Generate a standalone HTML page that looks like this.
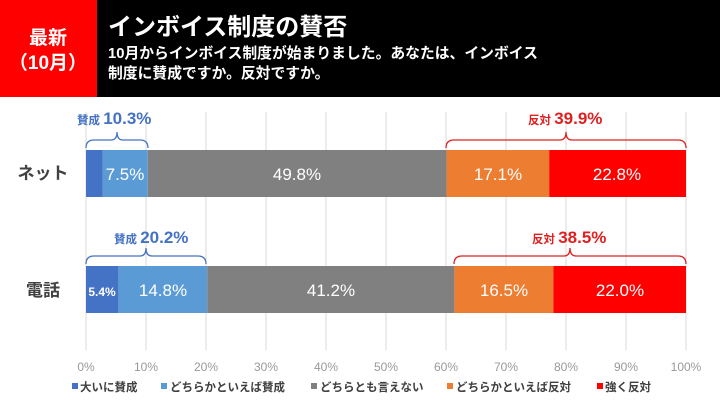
<!DOCTYPE html>
<html><head><meta charset="utf-8"><style>
body{margin:0;width:720px;height:405px;overflow:hidden;background:#fff;font-family:"Liberation Sans","Noto Sans CJK JP",sans-serif}
</style></head><body>
<svg width="720" height="405" xmlns="http://www.w3.org/2000/svg" font-family="Liberation Sans, Noto Sans CJK JP, sans-serif">
<rect x="0" y="0" width="720" height="97" fill="#000"/>
<rect x="0" y="0" width="97" height="97" fill="#f00"/>
<text x="48" y="44" fill="#fff" font-size="19" font-weight="bold" text-anchor="middle">最新</text>
<text x="48" y="69" fill="#fff" font-size="19" font-weight="bold" text-anchor="middle">（10月）</text>
<text x="108" y="35" fill="#fff" font-size="24" font-weight="bold">インボイス制度の賛否</text>
<text x="108" y="58" fill="#fff" font-size="14.8" font-weight="bold">10月からインボイス制度が始まりました。あなたは、インボイス</text>
<text x="108" y="78" fill="#fff" font-size="14.8" font-weight="bold">制度に賛成ですか。反対ですか。</text>
<g stroke="#d9d9d9" stroke-width="1">
<line x1="86" y1="112" x2="86" y2="350"/><line x1="146" y1="112" x2="146" y2="350"/><line x1="206" y1="112" x2="206" y2="350"/><line x1="266" y1="112" x2="266" y2="350"/><line x1="326" y1="112" x2="326" y2="350"/><line x1="386" y1="112" x2="386" y2="350"/><line x1="446" y1="112" x2="446" y2="350"/><line x1="506" y1="112" x2="506" y2="350"/><line x1="566" y1="112" x2="566" y2="350"/><line x1="626" y1="112" x2="626" y2="350"/><line x1="686" y1="112" x2="686" y2="350"/>
</g>
<rect x="86" y="150" width="16.8" height="47" fill="#4472c4"/>
<rect x="102.8" y="150" width="45" height="47" fill="#5b9bd5"/>
<rect x="147.8" y="150" width="298.8" height="47" fill="#808080"/>
<rect x="446.6" y="150" width="102.6" height="47" fill="#ed7d31"/>
<rect x="549.2" y="150" width="136.8" height="47" fill="#f00"/>
<rect x="86" y="266" width="32.4" height="47" fill="#4472c4"/>
<rect x="118.4" y="266" width="88.8" height="47" fill="#5b9bd5"/>
<rect x="207.2" y="266" width="247.2" height="47" fill="#808080"/>
<rect x="454.4" y="266" width="99" height="47" fill="#ed7d31"/>
<rect x="553.4" y="266" width="132.6" height="47" fill="#f00"/>
<g fill="#fff" font-size="17" text-anchor="middle">
<text x="125" y="180">7.5%</text><text x="297" y="180">49.8%</text><text x="498" y="180">17.1%</text><text x="617" y="180">22.8%</text>
<text x="102" y="296" font-size="12" font-weight="bold">5.4%</text><text x="163" y="296">14.8%</text><text x="331" y="296">41.2%</text><text x="504" y="296">16.5%</text><text x="620" y="296">22.0%</text>
</g>
<g fill="#404040" font-size="17" font-weight="bold" text-anchor="middle">
<text x="43" y="179">ネット</text><text x="43" y="296">電話</text>
</g>
<g fill="none" stroke-width="1.3">
<path d="M86,148 Q86,140 94,140 L111,140 Q117,140 117,132 Q117,140 123,140 L140,140 Q148,140 148,148" stroke="#4472c4"/>
<path d="M446,148 Q446,140 454,140 L560,140 Q566,140 566,132 Q566,140 572,140 L678,140 Q686,140 686,148" stroke="#e02020"/>
<path d="M86,264 Q86,256 94,256 L140,256 Q146,256 146,248 Q146,256 152,256 L198,256 Q206,256 206,264" stroke="#4472c4"/>
<path d="M454,264 Q454,256 462,256 L564,256 Q570,256 570,248 Q570,256 576,256 L678,256 Q686,256 686,264" stroke="#e02020"/>
</g>
<text x="77" y="124" fill="#4472c4" font-size="11.5" font-weight="bold">賛成 <tspan font-size="17">10.3%</tspan></text>
<text x="528" y="124" fill="#e02020" font-size="11.5" font-weight="bold">反対 <tspan font-size="17">39.9%</tspan></text>
<text x="114" y="243" fill="#4472c4" font-size="11.5" font-weight="bold">賛成 <tspan font-size="17">20.2%</tspan></text>
<text x="532" y="243" fill="#e02020" font-size="11.5" font-weight="bold">反対 <tspan font-size="17">38.5%</tspan></text>
<g fill="#999" font-size="12" text-anchor="middle">
<text x="86" y="371">0%</text><text x="146" y="371">10%</text><text x="206" y="371">20%</text><text x="266" y="371">30%</text><text x="326" y="371">40%</text><text x="386" y="371">50%</text><text x="446" y="371">60%</text><text x="506" y="371">70%</text><text x="566" y="371">80%</text><text x="626" y="371">90%</text><text x="686" y="371">100%</text>
</g>
<g font-size="11.5" fill="#404040" font-weight="bold">
<rect x="72" y="383" width="6" height="6" fill="#4472c4"/><text x="80" y="391">大いに賛成</text>
<rect x="161" y="383" width="6" height="6" fill="#5b9bd5"/><text x="170" y="391">どちらかといえば賛成</text>
<rect x="311" y="383" width="6" height="6" fill="#808080"/><text x="320" y="391">どちらとも言えない</text>
<rect x="447" y="383" width="6" height="6" fill="#ed7d31"/><text x="456" y="391">どちらかといえば反対</text>
<rect x="597" y="383" width="6" height="6" fill="#f00"/><text x="605" y="391">強く反対</text>
</g>
</svg>
</body></html>
